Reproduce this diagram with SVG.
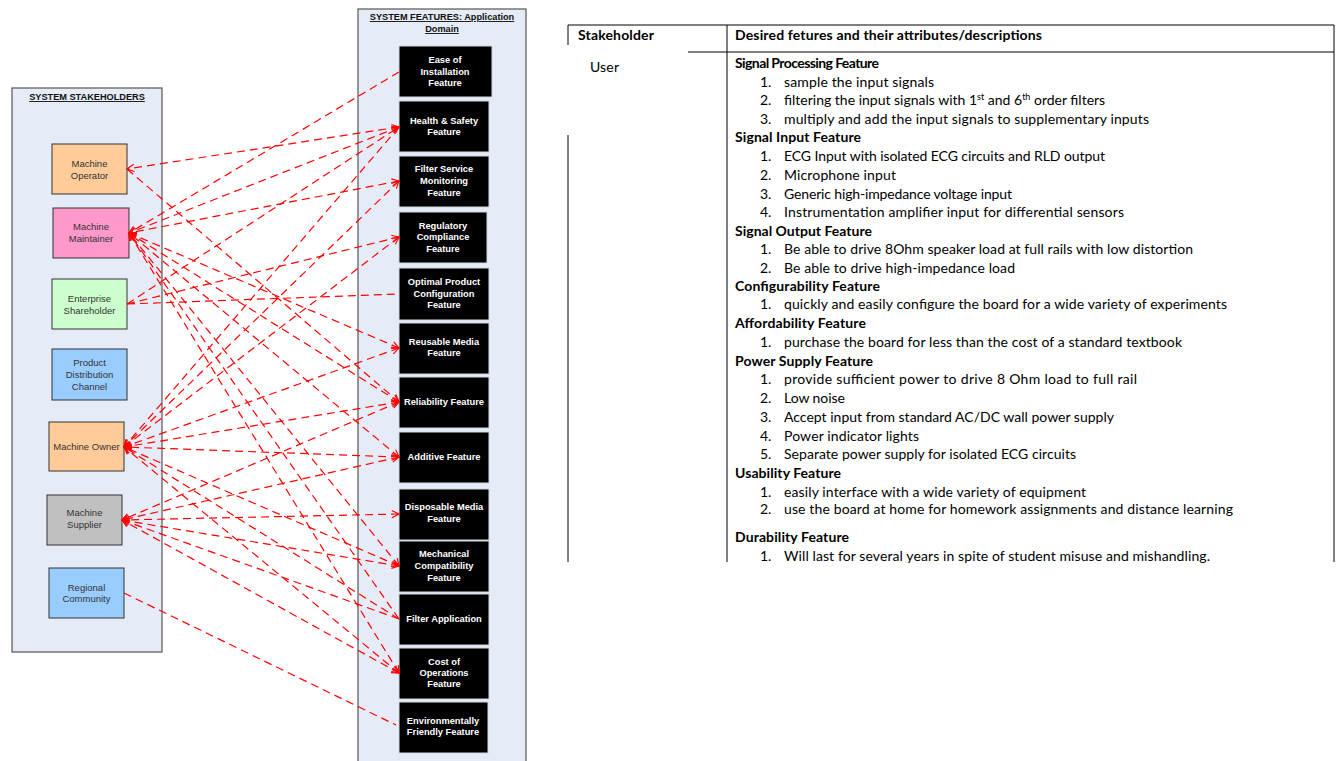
<svg xmlns="http://www.w3.org/2000/svg" width="1337" height="761" viewBox="0 0 1337 761">
<defs>
<style>
.panel{fill:#E6ECF7;stroke:#555;stroke-width:1.2}
.sh{stroke:#333;stroke-width:1}
.st{font-family:"Liberation Sans",Arial,sans-serif;font-size:9.5px;fill:#333;text-anchor:middle}
.ptitle{font-family:"Liberation Sans",Arial,sans-serif;font-size:9.2px;font-weight:bold;fill:#111;text-anchor:middle;text-decoration:underline}
.fb{fill:#000;stroke:#cfd6e0;stroke-width:1}
.ft{font-family:"Liberation Sans",Arial,sans-serif;font-size:9.3px;font-weight:bold;fill:#fff;text-anchor:middle}
.con{fill:none;stroke:#FF0000;stroke-width:1.2;stroke-dasharray:8 5}
.tl{stroke:#000;stroke-width:1;fill:none}
.tt{font-family:Lato,"Liberation Sans",sans-serif;font-size:14px;fill:#000}
.tb{font-family:Lato,"Liberation Sans",sans-serif;font-size:14px;font-weight:bold;fill:#000}
</style>
<marker id="ah" viewBox="0 0 10 10" refX="9" refY="5" markerWidth="9" markerHeight="9" markerUnits="userSpaceOnUse" orient="auto-start-reverse">
<path d="M1,1 L9,5 L1,9" fill="none" stroke="#FF0000" stroke-width="1.3"/>
</marker>
</defs>
<rect width="1337" height="761" fill="#fff"/>

<g id="stakeholders-panel">
<rect class="panel" x="12" y="88" width="150" height="564"/>
<text class="ptitle" x="87" y="100">SYSTEM STAKEHOLDERS</text>
</g>
<g id="features-panel">
<rect class="panel" x="358" y="9" width="168" height="760"/>
<text class="ptitle" x="442" y="20">SYSTEM FEATURES: Application</text>
<text class="ptitle" x="442" y="32">Domain</text>
</g>

<g id="machine-operator"><rect class="sh" x="52" y="144" width="75" height="50" fill="#FFCC99"/><text class="st" x="89.5" y="167">Machine</text><text class="st" x="89.5" y="179">Operator</text></g>
<g id="machine-maintainer"><rect class="sh" x="53" y="208" width="76" height="50" fill="#FF99CC"/><text class="st" x="91" y="230">Machine</text><text class="st" x="91" y="242">Maintainer</text></g>
<g id="enterprise-shareholder"><rect class="sh" x="52" y="279" width="75" height="50" fill="#CCFFCC"/><text class="st" x="89.5" y="302">Enterprise</text><text class="st" x="89.5" y="314">Shareholder</text></g>
<g id="product-distribution-channel"><rect class="sh" x="52" y="349" width="75" height="51" fill="#99CCFF"/><text class="st" x="89.5" y="366">Product</text><text class="st" x="89.5" y="378">Distribution</text><text class="st" x="89.5" y="390">Channel</text></g>
<g id="machine-owner"><rect class="sh" x="49" y="422" width="75" height="49" fill="#FFCC99"/><text class="st" x="86.5" y="450">Machine Owner</text></g>
<g id="machine-supplier"><rect class="sh" x="47" y="495" width="75" height="50" fill="#C0C0C0"/><text class="st" x="84.5" y="516">Machine</text><text class="st" x="84.5" y="528">Supplier</text></g>
<g id="regional-community"><rect class="sh" x="49" y="568" width="75" height="50" fill="#99CCFF"/><text class="st" x="86.5" y="591">Regional</text><text class="st" x="86.5" y="602">Community</text></g>

<g id="f-ease"><rect class="fb" x="399" y="46" width="93" height="51"/><text class="ft" x="445" y="63">Ease of</text><text class="ft" x="445" y="75">Installation</text><text class="ft" x="445" y="86">Feature</text></g>
<g id="f-health"><rect class="fb" x="399" y="101" width="90" height="51"/><text class="ft" x="444" y="124">Health &amp; Safety</text><text class="ft" x="444" y="135">Feature</text></g>
<g id="f-fsm"><rect class="fb" x="399" y="156" width="90" height="51"/><text class="ft" x="444" y="172">Filter Service</text><text class="ft" x="444" y="184">Monitoring</text><text class="ft" x="444" y="196">Feature</text></g>
<g id="f-regulatory"><rect class="fb" x="399" y="212" width="88" height="51"/><text class="ft" x="443" y="229">Regulatory</text><text class="ft" x="443" y="240">Compliance</text><text class="ft" x="443" y="252">Feature</text></g>
<g id="f-optimal"><rect class="fb" x="399" y="268" width="90" height="52"/><text class="ft" x="444" y="285">Optimal Product</text><text class="ft" x="444" y="297">Configuration</text><text class="ft" x="444" y="308">Feature</text></g>
<g id="f-reusable"><rect class="fb" x="399" y="323" width="90" height="51"/><text class="ft" x="444" y="345">Reusable Media</text><text class="ft" x="444" y="356">Feature</text></g>
<g id="f-reliability"><rect class="fb" x="399" y="377" width="90" height="51"/><text class="ft" x="444" y="405">Reliability Feature</text></g>
<g id="f-additive"><rect class="fb" x="399" y="432" width="90" height="51"/><text class="ft" x="444" y="460">Additive Feature</text></g>
<g id="f-disposable"><rect class="fb" x="399" y="489" width="90" height="51"/><text class="ft" x="444" y="510">Disposable Media</text><text class="ft" x="444" y="522">Feature</text></g>
<g id="f-mechanical"><rect class="fb" x="399" y="541" width="90" height="51"/><text class="ft" x="444" y="557">Mechanical</text><text class="ft" x="444" y="569">Compatibility</text><text class="ft" x="444" y="581">Feature</text></g>
<g id="f-filterapp"><rect class="fb" x="399" y="594" width="90" height="51"/><text class="ft" x="444" y="622">Filter Application</text></g>
<g id="f-cost"><rect class="fb" x="399" y="648" width="90" height="51"/><text class="ft" x="444" y="665">Cost of</text><text class="ft" x="444" y="676">Operations</text><text class="ft" x="444" y="687">Feature</text></g>
<g id="f-env"><rect class="fb" x="399" y="702" width="89" height="51"/><text class="ft" x="443" y="724">Environmentally</text><text class="ft" x="443" y="735">Friendly Feature</text></g>

<g id="connectors">
<line class="con" x1="399" y1="127" x2="127" y2="169" marker-start="url(#ah)" marker-end="url(#ah)"/>
<line class="con" x1="127" y1="169" x2="399" y2="402" marker-end="url(#ah)"/>
<line class="con" x1="399" y1="72" x2="129" y2="233" marker-end="url(#ah)"/>
<line class="con" x1="399" y1="127" x2="129" y2="233" marker-start="url(#ah)" marker-end="url(#ah)"/>
<line class="con" x1="399" y1="181" x2="129" y2="233" marker-start="url(#ah)" marker-end="url(#ah)"/>
<line class="con" x1="399" y1="348" x2="129" y2="233" marker-start="url(#ah)" marker-end="url(#ah)"/>
<line class="con" x1="399" y1="402" x2="129" y2="233" marker-start="url(#ah)" marker-end="url(#ah)"/>
<line class="con" x1="399" y1="457" x2="129" y2="233" marker-start="url(#ah)" marker-end="url(#ah)"/>
<line class="con" x1="399" y1="566" x2="129" y2="233" marker-start="url(#ah)" marker-end="url(#ah)"/>
<line class="con" x1="399" y1="619" x2="129" y2="233" marker-end="url(#ah)"/>
<line class="con" x1="399" y1="673" x2="129" y2="233" marker-start="url(#ah)" marker-end="url(#ah)"/>
<line class="con" x1="127" y1="304" x2="399" y2="237" marker-end="url(#ah)"/>
<line class="con" x1="127" y1="304" x2="399" y2="294"/>
<line class="con" x1="127" y1="304" x2="399" y2="127" marker-end="url(#ah)"/>
<line class="con" x1="399" y1="127" x2="124" y2="447" marker-end="url(#ah)"/>
<line class="con" x1="399" y1="181" x2="124" y2="447" marker-start="url(#ah)" marker-end="url(#ah)"/>
<line class="con" x1="399" y1="237" x2="124" y2="447" marker-start="url(#ah)" marker-end="url(#ah)"/>
<line class="con" x1="399" y1="348" x2="124" y2="447" marker-start="url(#ah)" marker-end="url(#ah)"/>
<line class="con" x1="399" y1="402" x2="124" y2="447" marker-start="url(#ah)" marker-end="url(#ah)"/>
<line class="con" x1="399" y1="457" x2="124" y2="447" marker-start="url(#ah)" marker-end="url(#ah)"/>
<line class="con" x1="399" y1="566" x2="124" y2="447" marker-start="url(#ah)" marker-end="url(#ah)"/>
<line class="con" x1="399" y1="619" x2="124" y2="447" marker-end="url(#ah)"/>
<line class="con" x1="399" y1="673" x2="124" y2="447" marker-start="url(#ah)" marker-end="url(#ah)"/>
<line class="con" x1="399" y1="402" x2="122" y2="520" marker-start="url(#ah)" marker-end="url(#ah)"/>
<line class="con" x1="399" y1="457" x2="122" y2="520" marker-start="url(#ah)" marker-end="url(#ah)"/>
<line class="con" x1="399" y1="514" x2="122" y2="520" marker-start="url(#ah)" marker-end="url(#ah)"/>
<line class="con" x1="399" y1="566" x2="122" y2="520" marker-start="url(#ah)" marker-end="url(#ah)"/>
<line class="con" x1="399" y1="619" x2="122" y2="520" marker-end="url(#ah)"/>
<line class="con" x1="399" y1="673" x2="122" y2="520" marker-start="url(#ah)" marker-end="url(#ah)"/>
<line class="con" x1="124" y1="593" x2="396" y2="725"/>
</g>

<g id="table">
<line class="tl" x1="568" y1="25" x2="1334" y2="25"/>
<line class="tl" x1="688" y1="52" x2="1334" y2="52"/>
<line class="tl" x1="568" y1="25" x2="568" y2="45"/>
<line class="tl" x1="568" y1="135" x2="568" y2="562"/>
<line class="tl" x1="727" y1="25" x2="727" y2="562"/>
<line class="tl" x1="1334" y1="25" x2="1334" y2="562"/>
<text class="tb" x="578" y="40" textLength="76">Stakeholder</text>
<text class="tb" x="735" y="40" textLength="307">Desired fetures and their attributes/descriptions</text>
<text class="tt" x="590" y="72" textLength="29">User</text>

<text class="tb" x="735" y="68" textLength="144">Signal Processing Feature</text>
<text class="tt" x="760" y="87">1.</text><text class="tt" x="784" y="87" textLength="150">sample the input signals</text>
<text class="tt" x="760" y="105">2.</text><text class="tt" x="784" y="105">filtering the input signals with 1<tspan font-size="9" dy="-5">st</tspan><tspan dy="5"> and 6</tspan><tspan font-size="9" dy="-5">th</tspan><tspan dy="5"> order filters</tspan></text>
<text class="tt" x="760" y="124">3.</text><text class="tt" x="784" y="124" textLength="365">multiply and add the input signals to supplementary inputs</text>

<text class="tb" x="735" y="142" textLength="126">Signal Input Feature</text>
<text class="tt" x="760" y="161">1.</text><text class="tt" x="784" y="161" textLength="321">ECG Input with isolated ECG circuits and RLD output</text>
<text class="tt" x="760" y="180">2.</text><text class="tt" x="784" y="180" textLength="112">Microphone input</text>
<text class="tt" x="760" y="199">3.</text><text class="tt" x="784" y="199" textLength="228">Generic high-impedance voltage input</text>
<text class="tt" x="760" y="217">4.</text><text class="tt" x="784" y="217" textLength="340">Instrumentation amplifier input for differential sensors</text>

<text class="tb" x="735" y="236" textLength="137">Signal Output Feature</text>
<text class="tt" x="760" y="254">1.</text><text class="tt" x="784" y="254" textLength="409">Be able to drive 8Ohm speaker load at full rails with low distortion</text>
<text class="tt" x="760" y="273">2.</text><text class="tt" x="784" y="273" textLength="231">Be able to drive high-impedance load</text>

<text class="tb" x="735" y="291" textLength="145">Configurability Feature</text>
<text class="tt" x="760" y="309">1.</text><text class="tt" x="784" y="309" textLength="443">quickly and easily configure the board for a wide variety of experiments</text>

<text class="tb" x="735" y="328" textLength="131">Affordability Feature</text>
<text class="tt" x="760" y="347">1.</text><text class="tt" x="784" y="347" textLength="398">purchase the board for less than the cost of a standard textbook</text>

<text class="tb" x="735" y="366" textLength="138">Power Supply Feature</text>
<text class="tt" x="760" y="384">1.</text><text class="tt" x="784" y="384" textLength="353">provide sufficient power to drive 8 Ohm load to full rail</text>
<text class="tt" x="760" y="403">2.</text><text class="tt" x="784" y="403" textLength="61">Low noise</text>
<text class="tt" x="760" y="422">3.</text><text class="tt" x="784" y="422" textLength="330">Accept input from standard AC/DC wall power supply</text>
<text class="tt" x="760" y="441">4.</text><text class="tt" x="784" y="441" textLength="135">Power indicator lights</text>
<text class="tt" x="760" y="459">5.</text><text class="tt" x="784" y="459" textLength="292">Separate power supply for isolated ECG circuits</text>

<text class="tb" x="735" y="478" textLength="106">Usability Feature</text>
<text class="tt" x="760" y="497">1.</text><text class="tt" x="784" y="497" textLength="302">easily interface with a wide variety of equipment</text>
<text class="tt" x="760" y="514">2.</text><text class="tt" x="784" y="514" textLength="449">use the board at home for homework assignments and distance learning</text>

<text class="tb" x="735" y="542" textLength="114">Durability Feature</text>
<text class="tt" x="760" y="561">1.</text><text class="tt" x="784" y="561" textLength="426">Will last for several years in spite of student misuse and mishandling.</text>
</g>
</svg>
